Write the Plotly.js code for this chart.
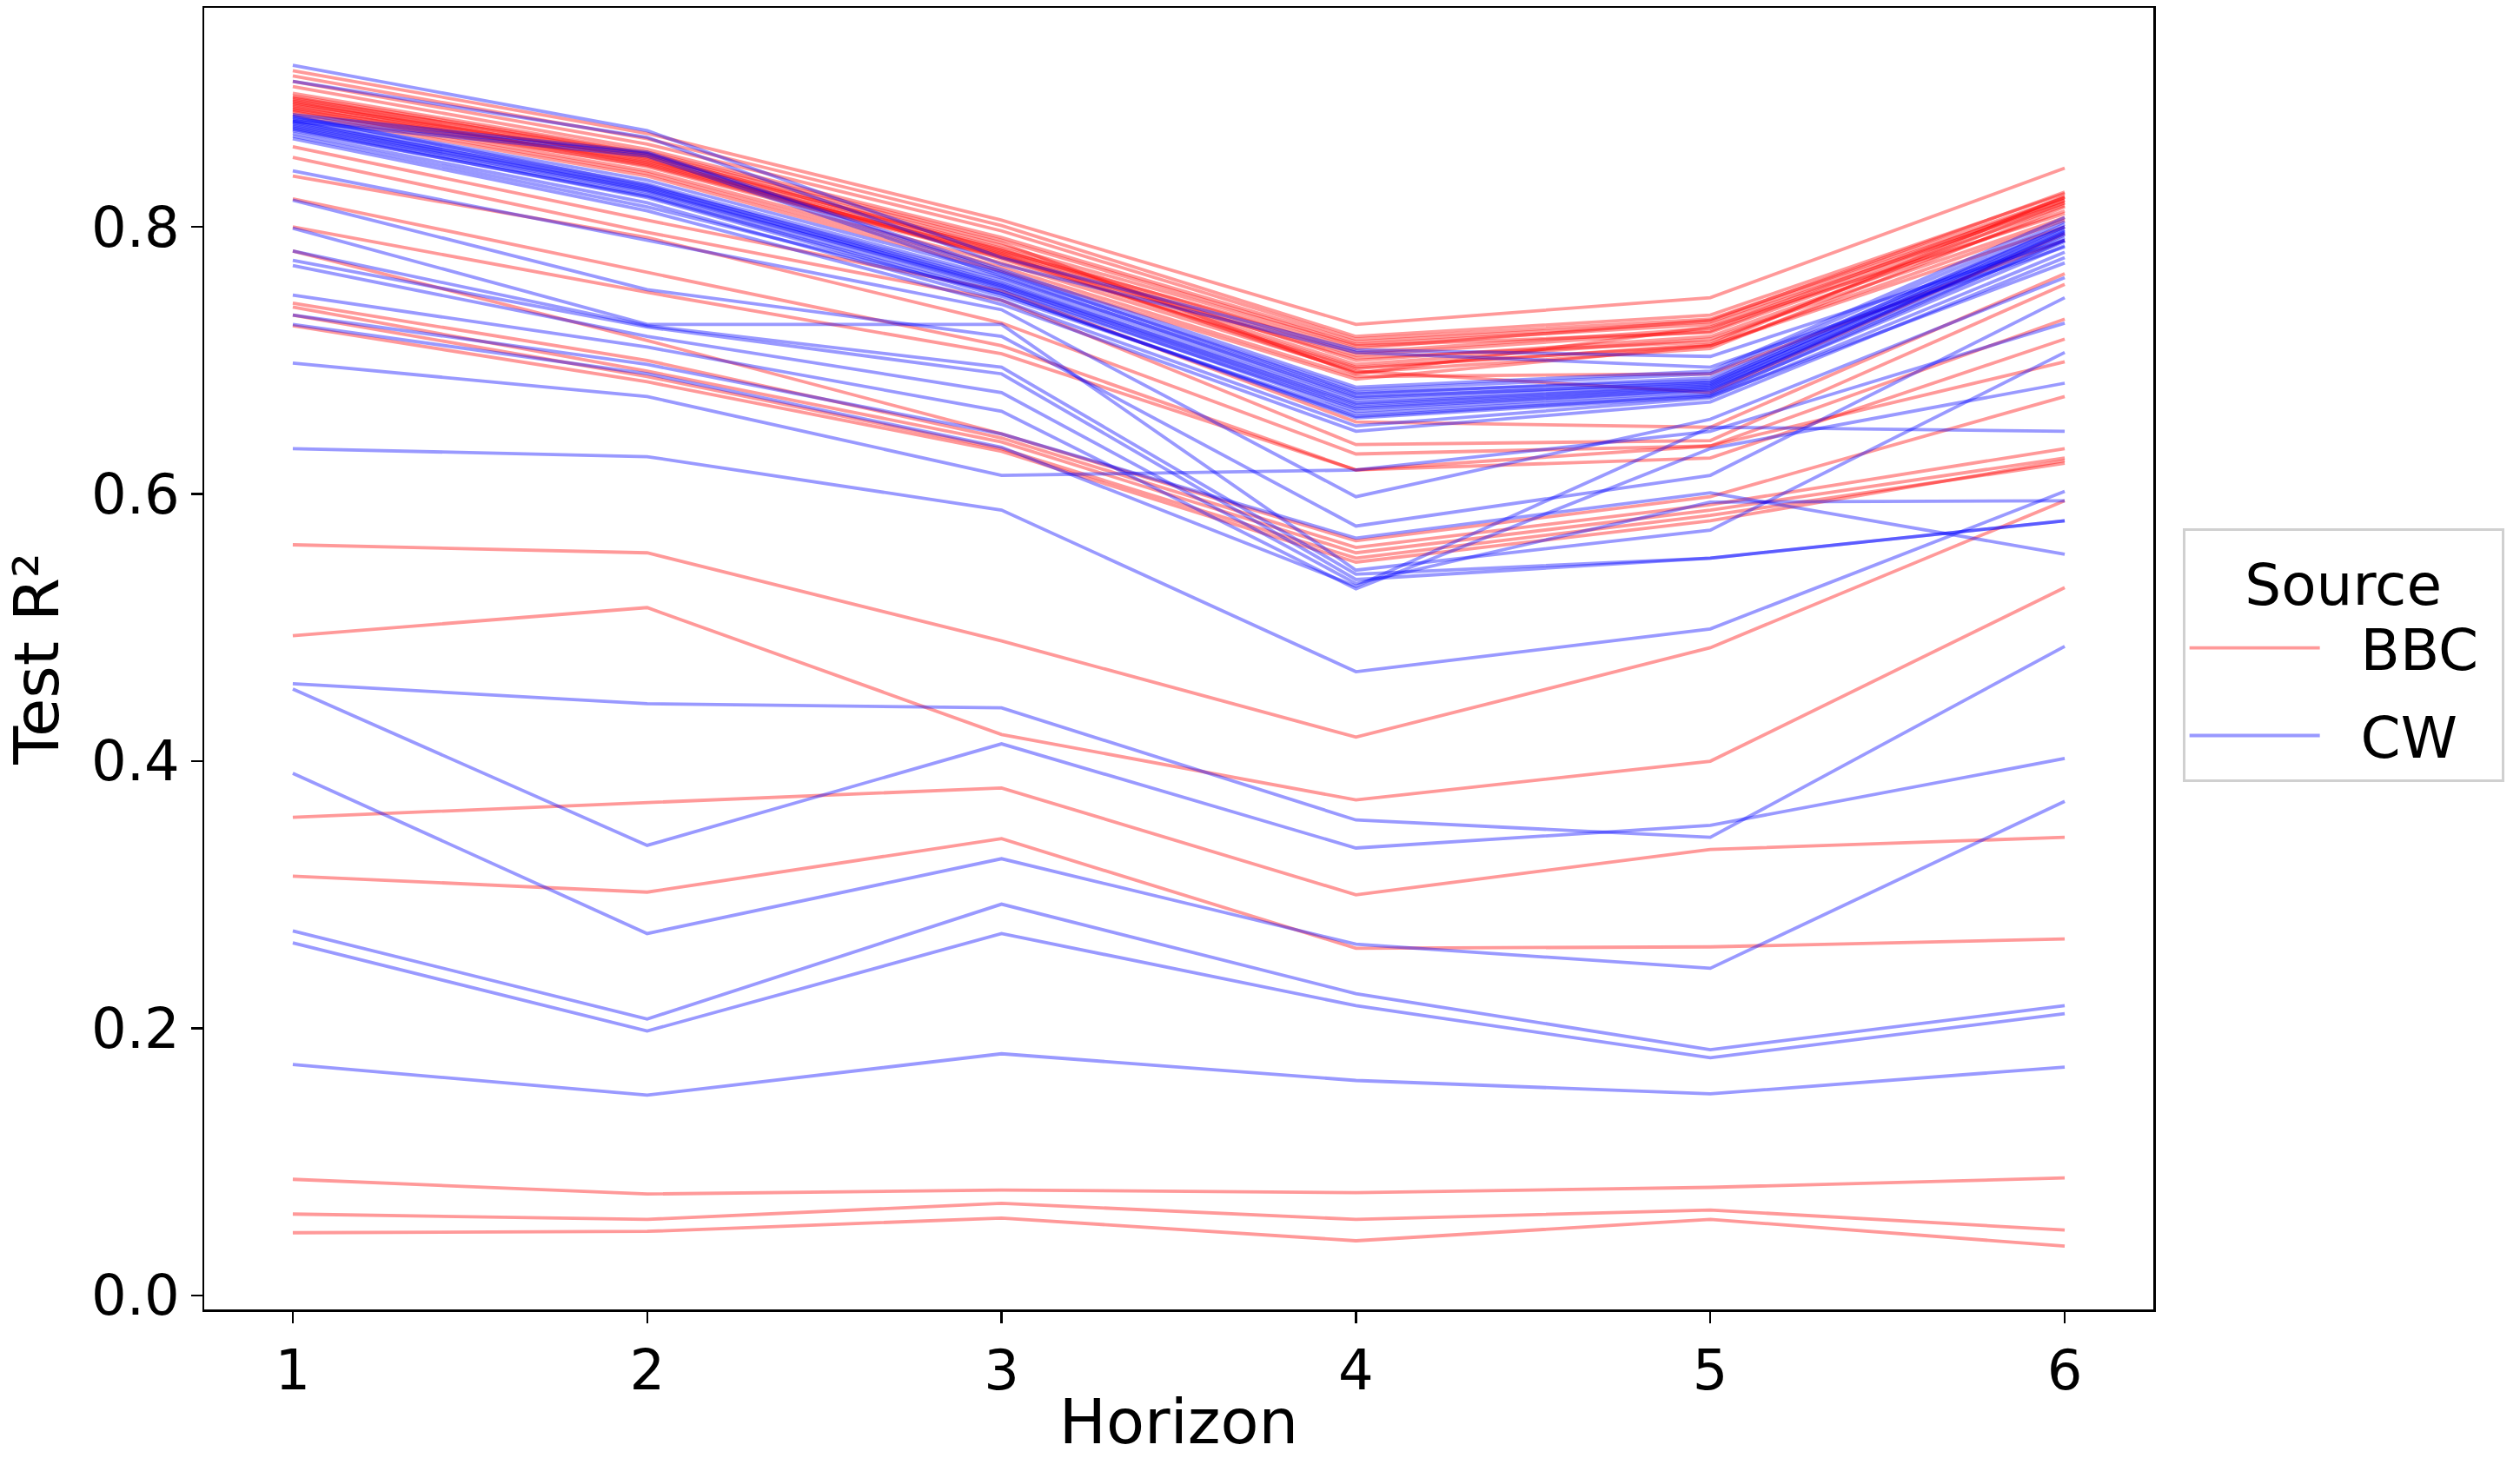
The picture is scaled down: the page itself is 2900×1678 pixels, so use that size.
<!DOCTYPE html>
<html>
<head>
<meta charset="utf-8">
<script src="https://cdn.plot.ly/plotly-3.0.1.min.js"></script>
<style>html,body{margin:0;padding:0;background:#fff;}#chart{width:2900px;height:1678px;}</style>
</head>
<body>
<div id="chart"></div>
<script>
// Horizon values (x axis)
const horizon = [1, 2, 3, 4, 5, 6];
const xTicks = [1, 2, 3, 4, 5, 6];
const yTicks = [0.0, 0.2, 0.4, 0.6, 0.8];
const yTickText = ["0.0", "0.2", "0.4", "0.6", "0.8"];

// Test R² per run, source BBC (one row per line, values at horizons 1..6)
const bbcRuns = [
  [0.917, 0.870, 0.805, 0.727, 0.747, 0.844],
  [0.913, 0.866, 0.801, 0.718, 0.734, 0.825],
  [0.909, 0.862, 0.797, 0.716, 0.731, 0.822],
  [0.905, 0.858, 0.792, 0.714, 0.729, 0.820],
  [0.900, 0.856, 0.790, 0.712, 0.727, 0.818],
  [0.898, 0.855, 0.788, 0.690, 0.725, 0.810],
  [0.897, 0.853, 0.786, 0.711, 0.721, 0.816],
  [0.896, 0.854, 0.782, 0.709, 0.730, 0.826],
  [0.895, 0.850, 0.783, 0.700, 0.718, 0.812],
  [0.894, 0.851, 0.776, 0.694, 0.712, 0.823],
  [0.893, 0.847, 0.780, 0.697, 0.716, 0.807],
  [0.892, 0.852, 0.784, 0.706, 0.724, 0.822],
  [0.891, 0.848, 0.779, 0.691, 0.709, 0.815],
  [0.890, 0.845, 0.777, 0.695, 0.711, 0.800],
  [0.889, 0.849, 0.781, 0.704, 0.722, 0.820],
  [0.888, 0.842, 0.773, 0.692, 0.676, 0.795],
  [0.887, 0.846, 0.778, 0.702, 0.714, 0.818],
  [0.886, 0.840, 0.770, 0.688, 0.690, 0.790],
  [0.884, 0.838, 0.767, 0.686, 0.711, 0.805],
  [0.860, 0.805, 0.752, 0.654, 0.650, 0.765],
  [0.852, 0.796, 0.745, 0.637, 0.640, 0.757],
  [0.838, 0.792, 0.728, 0.630, 0.636, 0.731],
  [0.821, 0.766, 0.711, 0.618, 0.627, 0.716],
  [0.800, 0.751, 0.705, 0.618, 0.636, 0.699],
  [0.782, 0.715, 0.645, 0.565, 0.598, 0.673],
  [0.743, 0.700, 0.642, 0.560, 0.592, 0.634],
  [0.740, 0.692, 0.639, 0.556, 0.588, 0.627],
  [0.734, 0.688, 0.634, 0.552, 0.584, 0.623],
  [0.726, 0.684, 0.632, 0.549, 0.580, 0.625],
  [0.562, 0.556, 0.490, 0.418, 0.485, 0.595],
  [0.494, 0.515, 0.420, 0.371, 0.400, 0.530],
  [0.358, 0.369, 0.380, 0.300, 0.334, 0.343],
  [0.314, 0.302, 0.342, 0.260, 0.261, 0.267],
  [0.087, 0.076, 0.079, 0.077, 0.081, 0.088],
  [0.061, 0.057, 0.069, 0.057, 0.064, 0.049],
  [0.047, 0.048, 0.058, 0.041, 0.057, 0.037]
];

// Test R² per run, source CW
const cwRuns = [
  [0.921, 0.872, 0.777, 0.708, 0.703, 0.790],
  [0.909, 0.867, 0.772, 0.706, 0.695, 0.785],
  [0.884, 0.856, 0.768, 0.680, 0.692, 0.807],
  [0.883, 0.831, 0.758, 0.668, 0.681, 0.798],
  [0.882, 0.835, 0.765, 0.678, 0.690, 0.804],
  [0.881, 0.855, 0.766, 0.676, 0.685, 0.802],
  [0.880, 0.832, 0.762, 0.675, 0.687, 0.800],
  [0.879, 0.853, 0.763, 0.673, 0.683, 0.800],
  [0.879, 0.829, 0.756, 0.665, 0.679, 0.794],
  [0.878, 0.830, 0.760, 0.672, 0.684, 0.797],
  [0.877, 0.828, 0.757, 0.670, 0.682, 0.795],
  [0.876, 0.827, 0.754, 0.662, 0.677, 0.796],
  [0.875, 0.826, 0.755, 0.667, 0.680, 0.792],
  [0.874, 0.824, 0.752, 0.664, 0.678, 0.789],
  [0.873, 0.822, 0.748, 0.660, 0.675, 0.786],
  [0.872, 0.823, 0.750, 0.658, 0.674, 0.790],
  [0.870, 0.818, 0.745, 0.651, 0.672, 0.781],
  [0.868, 0.815, 0.750, 0.657, 0.673, 0.773],
  [0.866, 0.812, 0.742, 0.647, 0.669, 0.777],
  [0.842, 0.790, 0.738, 0.598, 0.656, 0.762],
  [0.820, 0.753, 0.718, 0.576, 0.614, 0.747],
  [0.799, 0.727, 0.727, 0.543, 0.573, 0.706],
  [0.782, 0.726, 0.695, 0.540, 0.552, 0.580],
  [0.775, 0.725, 0.690, 0.536, 0.552, 0.580],
  [0.771, 0.718, 0.676, 0.533, 0.594, 0.595],
  [0.749, 0.710, 0.662, 0.529, 0.634, 0.683],
  [0.734, 0.697, 0.645, 0.567, 0.601, 0.555],
  [0.727, 0.690, 0.635, 0.531, 0.650, 0.647],
  [0.698, 0.673, 0.614, 0.618, 0.647, 0.728],
  [0.634, 0.628, 0.588, 0.467, 0.499, 0.602],
  [0.458, 0.443, 0.440, 0.356, 0.343, 0.486],
  [0.454, 0.337, 0.413, 0.335, 0.352, 0.402],
  [0.391, 0.271, 0.327, 0.263, 0.245, 0.370],
  [0.273, 0.207, 0.293, 0.226, 0.184, 0.217],
  [0.264, 0.198, 0.271, 0.217, 0.178, 0.211],
  [0.173, 0.150, 0.181, 0.161, 0.151, 0.171]
];

const sources = ["BBC", "CW"];
const sourceColors = ["rgba(255,0,0,0.4)", "rgba(0,0,255,0.4)"];
const runsBySource = [bbcRuns, cwRuns];

const FONT = "DejaVu Sans, sans-serif";
const NB = "\u00a0";
const traces = [];
runsBySource.forEach((runs, si) => {
  runs.forEach((vals, i) => {
    traces.push({
      type: "scatter",
      mode: "lines",
      x: horizon,
      y: vals,
      name: NB + NB + sources[si] + NB,
      legendgroup: sources[si],
      showlegend: i === 0,
      line: {color: sourceColors[si], width: 3.8},
      hoverinfo: "skip"
    });
  });
});

const layout = {
  width: 2900,
  height: 1678,
  paper_bgcolor: "#ffffff",
  plot_bgcolor: "#ffffff",
  margin: {l: 235, r: 422, t: 9, b: 171, pad: 0},
  font: {family: FONT, size: 64, color: "#000"},
  showlegend: true,
  xaxis: {
    range: [0.75, 6.25],
    tickmode: "array",
    tickvals: xTicks,
    ticktext: xTicks.map(String),
    ticks: "outside",
    ticklen: 13,
    tickwidth: 2.5,
    tickcolor: "#000",
    showline: true,
    linecolor: "#000",
    linewidth: 2.5,
    mirror: true,
    showgrid: false,
    zeroline: false,
    tickfont: {family: FONT, size: 64, color: "#000"},
    title: {text: "Horizon", font: {family: FONT, size: 72, color: "#000"}, standoff: 18}
  },
  yaxis: {
    range: [-0.0104, 0.964],
    tickmode: "array",
    tickvals: yTicks,
    ticktext: yTickText,
    ticks: "outside",
    ticklen: 13,
    tickwidth: 2.5,
    tickcolor: "#000",
    showline: true,
    linecolor: "#000",
    linewidth: 2.5,
    mirror: true,
    showgrid: false,
    zeroline: false,
    tickfont: {family: FONT, size: 64, color: "#000"},
    title: {text: "Test R²", font: {family: FONT, size: 72, color: "#000"}, standoff: 30}
  },
  legend: {
    x: 1.015,
    xanchor: "left",
    y: 0.503,
    yanchor: "middle",
    bgcolor: "#ffffff",
    bordercolor: "#d0d0d0",
    borderwidth: 3,
    font: {family: FONT, size: 66, color: "#000"},
    title: {text: "Source", side: "top center", font: {family: FONT, size: 66, color: "#000"}},
    itemwidth: 150,
    traceorder: "grouped",
    tracegroupgap: 12
  }
};

Plotly.newPlot("chart", traces, layout, {staticPlot: true, displayModeBar: false});
</script>
</body>
</html>
